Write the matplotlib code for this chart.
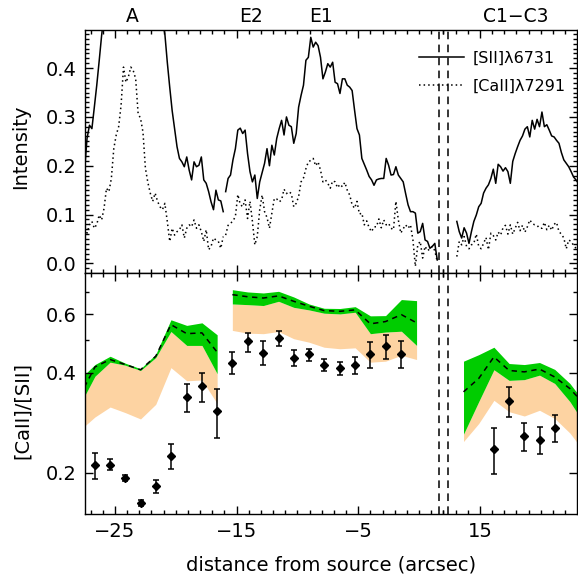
import numpy as np
import matplotlib
matplotlib.use("Agg")
import matplotlib.pyplot as plt
from matplotlib.ticker import FixedLocator, MultipleLocator, NullFormatter
from matplotlib.transforms import blended_transform_factory

# --- slit profiles (0.2 arcsec sampling), three pieces of the slit ---
STEP = 0.2
x0_a, x0_b, x0_c = -27.5, -15.9, 13.1

sii_a = [0.191, 0.256, 0.283, 0.276, 0.320, 0.365, 0.415, 0.467, 0.51, 0.55,
         0.60, 0.64, 0.68, 0.71, 0.74, 0.76, 0.78, 0.79, 0.80, 0.79,
         0.80, 0.78, 0.77, 0.75, 0.72, 0.70, 0.67, 0.64, 0.61, 0.58,
         0.55, 0.52, 0.50, 0.470, 0.412, 0.361, 0.313, 0.276, 0.239, 0.215,
         0.208, 0.198, 0.218, 0.191, 0.171, 0.208, 0.198, 0.201, 0.218, 0.171,
         0.164, 0.147, 0.126, 0.110, 0.150, 0.130, 0.128, 0.106]
sii_b = [0.147, 0.174, 0.181, 0.212, 0.235, 0.273, 0.277, 0.266, 0.273, 0.225,
         0.188, 0.167, 0.181, 0.133, 0.167, 0.186, 0.205, 0.235, 0.200, 0.242,
         0.222, 0.256, 0.276, 0.293, 0.263, 0.300, 0.283, 0.280, 0.246, 0.266,
         0.320, 0.344, 0.365, 0.416, 0.422, 0.463, 0.443, 0.453, 0.446, 0.422,
         0.378, 0.392, 0.409, 0.402, 0.412, 0.371, 0.368, 0.348, 0.378, 0.378,
         0.365, 0.361, 0.354, 0.314, 0.276, 0.263, 0.215, 0.203, 0.191, 0.178,
         0.171, 0.160, 0.171, 0.173, 0.174, 0.174, 0.215, 0.201, 0.181, 0.182,
         0.198, 0.181, 0.174, 0.167, 0.143, 0.120, 0.106, 0.106, 0.103, 0.062,
         0.065, 0.082, 0.048, 0.045, 0.031, 0.035, 0.041, 0.007]
sii_c = [0.086, 0.065, 0.052, 0.073, 0.062, 0.041, 0.065, 0.086, 0.099, 0.116,
         0.123, 0.144, 0.154, 0.161, 0.174, 0.193, 0.164, 0.203, 0.198, 0.189,
         0.196, 0.188, 0.164, 0.209, 0.225, 0.239, 0.252, 0.261, 0.275, 0.280,
         0.259, 0.293, 0.275, 0.295, 0.280, 0.310, 0.280, 0.284, 0.273, 0.261,
         0.259, 0.252, 0.246, 0.227, 0.212, 0.205, 0.198, 0.188, 0.177, 0.171,
         0.164]

caii_a = [0.072, 0.062, 0.079, 0.086, 0.072, 0.080, 0.099, 0.089, 0.113, 0.154,
          0.147, 0.174, 0.235, 0.263, 0.280, 0.324, 0.402, 0.371, 0.382, 0.402,
          0.395, 0.378, 0.307, 0.297, 0.269, 0.195, 0.166, 0.144, 0.127, 0.144,
          0.127, 0.116, 0.110, 0.123, 0.086, 0.045, 0.072, 0.058, 0.065, 0.069,
          0.079, 0.052, 0.072, 0.079, 0.075, 0.089, 0.072, 0.079, 0.065, 0.045,
          0.069, 0.028, 0.035, 0.052, 0.048, 0.045, 0.031, 0.055]
caii_b = [0.058, 0.078, 0.082, 0.087, 0.096, 0.141, 0.121, 0.116, 0.130, 0.092,
          0.127, 0.086, 0.038, 0.055, 0.110, 0.140, 0.106, 0.094, 0.072, 0.103,
          0.133, 0.132, 0.126, 0.130, 0.152, 0.143, 0.147, 0.143, 0.116, 0.123,
          0.137, 0.167, 0.175, 0.194, 0.208, 0.211, 0.215, 0.200, 0.208, 0.191,
          0.167, 0.171, 0.164, 0.154, 0.169, 0.167, 0.155, 0.162, 0.157, 0.166,
          0.150, 0.140, 0.120, 0.113, 0.127, 0.101, 0.103, 0.079, 0.087, 0.073,
          0.065, 0.075, 0.075, 0.091, 0.073, 0.089, 0.079, 0.082, 0.072, 0.069,
          0.127, 0.089, 0.062, 0.071, 0.079, 0.072, 0.079, 0.048, -0.006, 0.038,
          0.045, 0.011, 0.035, 0.026, 0.030, 0.035, 0.026, 0.004]
caii_c = [0.014, 0.045, 0.038, 0.055, 0.035, 0.030, 0.038, 0.041, 0.060, 0.035,
          0.030, 0.041, 0.053, 0.028, 0.062, 0.057, 0.048, 0.064, 0.058, 0.073,
          0.078, 0.060, 0.079, 0.060, 0.072, 0.084, 0.067, 0.078, 0.064, 0.075,
          0.089, 0.082, 0.079, 0.078, 0.072, 0.072, 0.084, 0.069, 0.078, 0.068,
          0.080, 0.084, 0.065, 0.060, 0.052, 0.030, 0.048, 0.045, 0.037, 0.031,
          0.035]

# --- measured [CaII]/[SII] ratios ---
ratio_x = [-26.65, -25.40, -24.15, -22.90, -21.65, -20.40, -19.10, -17.85, -16.60,
           -15.35, -14.10, -12.80, -11.55, -10.30, -9.05, -7.80, -6.50, -5.25,
           -4.00, -2.75, -1.45, 16.15, 17.40, 18.65, 19.90, 21.15]
ratio = [0.210, 0.211, 0.193, 0.162, 0.182, 0.224, 0.337, 0.364, 0.306,
         0.429, 0.497, 0.459, 0.508, 0.444, 0.454, 0.421, 0.412, 0.421,
         0.454, 0.480, 0.456, 0.235, 0.328, 0.258, 0.251, 0.273]
ratio_hi = [0.229, 0.219, 0.197, 0.165, 0.190, 0.243, 0.369, 0.399, 0.358,
            0.461, 0.528, 0.497, 0.532, 0.467, 0.470, 0.441, 0.430, 0.446,
            0.493, 0.519, 0.499, 0.272, 0.362, 0.282, 0.274, 0.298]
ratio_lo = [0.191, 0.203, 0.189, 0.159, 0.174, 0.205, 0.304, 0.327, 0.255,
            0.395, 0.462, 0.423, 0.480, 0.418, 0.435, 0.404, 0.393, 0.397,
            0.414, 0.441, 0.413, 0.198, 0.294, 0.233, 0.228, 0.247]

# --- model ranges: green = upper range, peach = lower range, dashed = best ---
band_x_a = [-27.90, -26.65, -25.40, -24.15, -22.90, -21.65, -20.40, -19.10, -17.85, -16.60]
top_a = [0.382, 0.423, 0.448, 0.427, 0.411, 0.454, 0.577, 0.555, 0.565, 0.520]
best_a = [0.340, 0.416, 0.438, 0.423, 0.408, 0.448, 0.558, 0.524, 0.527, 0.461]
mid_a = [0.319, 0.390, 0.430, 0.421, 0.406, 0.444, 0.532, 0.483, 0.483, 0.397]
low_a = [0.268, 0.294, 0.315, 0.303, 0.290, 0.321, 0.414, 0.378, 0.380, 0.323]

band_x_b = [-15.35, -14.10, -12.80, -11.55, -10.30, -9.05, -7.80, -6.50, -5.25,
            -4.00, -2.75, -1.45, -0.20]
top_b = [0.711, 0.700, 0.695, 0.703, 0.676, 0.644, 0.625, 0.624, 0.632, 0.593, 0.594, 0.664, 0.659]
best_b = [0.687, 0.677, 0.671, 0.681, 0.656, 0.634, 0.615, 0.612, 0.618, 0.561, 0.570, 0.598, 0.565]
mid_b = [0.644, 0.641, 0.637, 0.656, 0.629, 0.618, 0.604, 0.601, 0.608, 0.524, 0.530, 0.533, 0.483]
low_b = [0.536, 0.526, 0.524, 0.532, 0.506, 0.494, 0.477, 0.472, 0.475, 0.430, 0.433, 0.451, 0.438]

band_x_c = [13.65, 14.90, 16.15, 17.40, 18.65, 19.90, 21.15, 22.40, 23.65]
top_c = [0.433, 0.453, 0.477, 0.426, 0.423, 0.429, 0.409, 0.371, 0.323]
best_c = [0.350, 0.384, 0.446, 0.406, 0.402, 0.410, 0.388, 0.358, 0.319]
mid_c = [0.261, 0.327, 0.408, 0.379, 0.381, 0.393, 0.371, 0.327, 0.278]
low_c = [0.248, 0.281, 0.330, 0.305, 0.296, 0.308, 0.291, 0.263, 0.229]

knots = [(-23.6, "A"), (-13.8, "E2"), (-8.1, "E1"), (17.95, "C1\u2212C3")]
major_x = [-25, -15, -5, 15]
minor_x = [v for v in list(range(-27, 3)) + list(range(12, 24)) if v not in major_x]
break_x = [1.65, 12.35]

GREEN = "#00cc00"
PEACH = "#fdd3a2"


# the stretch between 2 and 12 arcsec is squeezed out of the axis
def squeeze(x):
    x = np.asarray(x, dtype=float)
    return np.where(x <= 2, x, np.where(x >= 12, x - 9.99, 2 + (x - 2) * 0.001))


def unsqueeze(y):
    y = np.asarray(y, dtype=float)
    return np.where(y <= 2, y, np.where(y >= 2.01, y + 9.99, 2 + (y - 2) / 0.001))


def grid(x0, vals):
    return x0 + STEP * np.arange(len(vals))


plt.rcParams.update({
    "font.family": "DejaVu Sans",
    "font.size": 14,
    "axes.linewidth": 1.0,
    "xtick.direction": "in",
    "ytick.direction": "in",
    "xtick.top": True,
    "ytick.right": True,
})

fig = plt.figure(figsize=(5.78, 5.77), dpi=100)
ax1 = fig.add_axes([0.147, 0.5274, 0.851, 0.4206])
ax2 = fig.add_axes([0.147, 0.1092, 0.851, 0.4182], sharex=ax1)

ax1.set_xscale("function", functions=(squeeze, unsqueeze))
ax1.set_xlim(-27.47, 22.97)

# top: intensity profiles
for i, (x0, s, c) in enumerate([(x0_a, sii_a, caii_a), (x0_b, sii_b, caii_b),
                                (x0_c, sii_c, caii_c)]):
    ax1.plot(grid(x0, s), s, color="k", lw=1.1,
             label="[SII]\u03bb6731" if i == 0 else None)
    ax1.plot(grid(x0, c), c, color="k", lw=1.1, ls=(0, (1, 2)),
             label="[CaII]\u03bb7291" if i == 0 else None)

ax1.set_ylim(-0.019, 0.478)
ax1.yaxis.set_major_locator(MultipleLocator(0.1))
ax1.yaxis.set_minor_locator(MultipleLocator(0.01))
ax1.set_ylabel("Intensity")
ax1.yaxis.set_label_coords(-0.112, 0.518)
ax1.tick_params(labelbottom=False)

trans = blended_transform_factory(ax1.transData, ax1.transAxes)
for xk, name in knots:
    ax1.text(xk, 1.056, name, transform=trans, ha="center", va="center",
             fontsize=13.5)

ax1.legend(loc="upper left", bbox_to_anchor=(0.68, 0.915), frameon=False,
           fontsize=11.5, handlelength=2.8, handletextpad=0.55, labelspacing=0.8,
           borderaxespad=0, borderpad=0)

# bottom: line ratio vs models
for bx, top, best, mid, low in [(band_x_a, top_a, best_a, mid_a, low_a),
                                (band_x_b, top_b, best_b, mid_b, low_b),
                                (band_x_c, top_c, best_c, mid_c, low_c)]:
    ax2.fill_between(bx, low, mid, color=PEACH, lw=0)
    ax2.fill_between(bx, mid, top, color=GREEN, lw=0)
    ax2.plot(bx, best, color="k", lw=1.1, dashes=(3.5, 3))

r = np.array(ratio)
yerr = [r - np.array(ratio_lo), np.array(ratio_hi) - r]
ax2.errorbar(ratio_x, ratio, yerr=yerr, fmt="D", color="k", ms=4.5,
             elinewidth=1.1, capsize=2.5, capthick=1.1)

ax2.set_yscale("log")
ax2.set_ylim(0.15, 0.80)
ax2.set_yticks([0.2, 0.4, 0.6], ["0.2", "0.4", "0.6"])
ax2.yaxis.set_minor_locator(FixedLocator([0.5, 0.7]))
ax2.yaxis.set_minor_formatter(NullFormatter())
ax2.set_ylabel("[CaII]/[SII]")
ax2.yaxis.set_label_coords(-0.108, 0.427)
ax2.set_xlabel("distance from source (arcsec)")
ax2.xaxis.set_label_coords(0.5, -0.174)

ax2.xaxis.set_major_locator(FixedLocator(major_x))
ax2.xaxis.set_minor_locator(FixedLocator(minor_x))

for ax in (ax1, ax2):
    for xb in break_x:
        ax.axvline(xb, color="k", lw=1.1, dashes=(5, 3.5))
    ax.tick_params(which="major", length=6, width=1.0, pad=6)
    ax.tick_params(which="minor", length=3, width=1.0)

fig.savefig("out.png", dpi=100)
